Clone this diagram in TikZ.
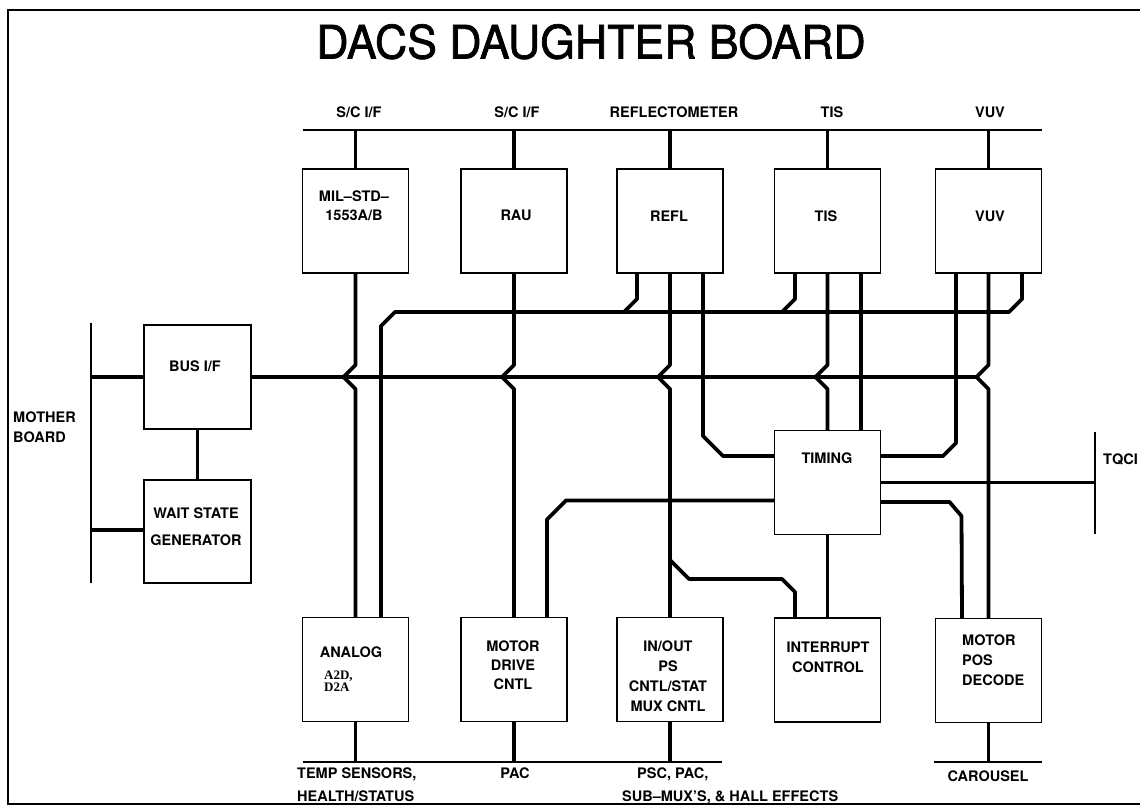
\documentclass[tikz,border=0pt]{standalone}
\usepackage{fontspec}
\setmainfont{TeX Gyre Heros}
\newfontfamily\headfont[FakeBold=1.5]{TeX Gyre Heros}
\newfontfamily\smallserif{Liberation Serif}
\usepackage{graphicx}
\usetikzlibrary{calc}

\tikzset{
  wire/.style={line width=3.8pt, line join=round},
  rail/.style={line width=1.8pt},
  blk/.style={draw, line width=1.8pt, minimum width=106pt, minimum height=104pt,
              inner sep=0pt, outer sep=0pt},
  lbl/.style={inner sep=0pt, font=\fontsize{14.5}{19.5}\selectfont\bfseries},
  sublbl/.style={inner sep=0pt, font=\smallserif\fontsize{13}{10.5}\selectfont\bfseries},
}

\begin{document}
\begin{tikzpicture}[x=1pt,y=-1pt]
\useasboundingbox (0,0) rectangle (1140,807);

% outer frame (open on the right)
\draw[line width=2.6pt] (1140,10) -- (8,10) -- (8,804) -- (1140,804);

% heading
\node[anchor=base, inner sep=0pt, font=\headfont\fontsize{46}{46}\selectfont] (title)
  at (591,58.5) {\scalebox{0.97}[1]{DACS DAUGHTER BOARD}};

% column centres
\def\ca{355.5}\def\cb{514}\def\cc{670}\def\cd{827.5}\def\ce{988.5}

% interface blocks, upper row
\node[blk] (mil)  at (\ca,221) {};
\node[blk] (rau)  at (\cb,221) {};
\node[blk] (refl) at (\cc,221) {};
\node[blk] (tis)  at (\cd,221) {};
\node[blk] (vuv)  at (\ce,221) {};
% lower row
\node[blk] (analog) at (\ca,669.5) {};
\node[blk] (mdrive) at (\cb,669.5) {};
\node[blk] (inout)  at (\cc,669.5) {};
\node[blk] (intr)   at (\cd,670) {};
\node[blk] (mpos)   at (\ce,670.5) {};
% middle and left
\node[blk] (timing) at (\cd,482.5) {};
\node[blk, minimum width=107pt] (busif) at (197.5,377) {};
\node[blk, minimum width=107pt, minimum height=103pt] (wait) at (197.5,531.5) {};

% external rails
\coordinate (tbL) at (303,130);  \coordinate (tbR) at (1042,130);
\coordinate (bbL) at (303,762);  \coordinate (bbR) at (722,762);
\coordinate (cbL) at (934,762);  \coordinate (cbR) at (1042,762);
\coordinate (mbT) at (91,323);   \coordinate (mbB) at (91,583);
\coordinate (tqT) at (1095,432); \coordinate (tqB) at (1095,534);
\draw[rail] (tbL) -- (tbR);
\draw[rail] (bbL) -- (bbR);
\draw[rail] (cbL) -- (cbR);
\draw[rail] (mbT) -- (mbB);
\draw[rail] (tqT) -- (tqB);

% rail stubs
\foreach \b in {mil,rau,refl,tis,vuv} \draw[wire] (\b.north |- tbL) -- (\b.north);
\foreach \b in {analog,mdrive,inout} \draw[wire] (\b.south) -- (\b.south |- bbL);
\draw[wire] (mpos.south) -- (mpos.south |- cbL);

% main data bus
\coordinate (hop) at (0,365);
\coordinate (busEnd) at (976.5,377);
\draw[wire] (busif.east) -- (busEnd);
\foreach \a/\b in {mil/analog, rau/mdrive, refl/inout, tis/timing, vuv/mpos}
  \draw[wire] (\a.south) -- (\a.south |- hop) -- ++(-12,12) -- ++(12,12) -- (\b.north);

% second bus to the analog block
\draw[wire] ([xshift=33.5pt]vuv.south) -- ++(0,26) -- ++(-13,13) -- (395,312)
  -- ++(-14,14) -- ([xshift=25.5pt]analog.north);
\draw[wire] ([xshift=-33pt]refl.south) -- ++(0,26) -- ++(-13,13);
\draw[wire] ([xshift=-32.5pt]tis.south) -- ++(0,26) -- ++(-13,13);

% timing connections
\draw[wire] ([xshift=33pt]refl.south) -- ++(0,163) -- ++(20,20) -- ([yshift=26.5pt]timing.west);
\draw[wire] ([xshift=33.5pt]tis.south) -- ([xshift=33.5pt]timing.north);
\draw[wire] ([xshift=-32.5pt]vuv.south) -- ++(0,170) -- ++(-13,13) -- ([yshift=26.5pt]timing.east);
\draw[wire] (timing.east) -- (timing.east -| tqT);
\draw[wire] ([yshift=-19.5pt]timing.east) -- ++(69,0) -- ++(12,14) -- ([xshift=-26.5pt]mpos.north);
\draw[wire] (timing.south) -- (intr.north);
\draw[wire] ([xshift=33pt]mdrive.north) -- ++(0,-98) -- ++(19,-19) -- ([yshift=-18pt]timing.west);
\coordinate (irq) at (\cc,560);
\draw[wire] (irq) -- ++(19,19) -- ++(93,0) -- ++(13,13) -- ([xshift=-32.5pt]intr.north);

% mother board side
\draw[wire] (busif.west -| mbT) -- (busif.west);
\draw[wire] ([yshift=1.5pt]wait.west -| mbT) -- ([yshift=1.5pt]wait.west);
\draw[wire] (busif.south) -- (wait.north);

% rail labels
\node[lbl, anchor=base] (lsc1) at (359,117) {S/C I/F};
\node[lbl, anchor=base] (lsc2) at (517,117) {S/C I/F};
\node[lbl, anchor=base] (lrefl) at (674,117) {REFLECTOMETER};
\node[lbl, anchor=base] (ltis) at (832,117) {TIS};
\node[lbl, anchor=base] (lvuv) at (990,117) {VUV};
\node[lbl, anchor=north west, align=left] (lmb) at (13,412) {MOTHER\\BOARD};
\node[lbl, anchor=base west] (ltq) at (1103,464) {TQCI};
\node[lbl, anchor=north west, align=left, font=\fontsize{14.5}{23}\selectfont\bfseries]
  (ltemp) at (297,768) {TEMP SENSORS,\\HEALTH/STATUS};
\node[lbl, anchor=base] (lpac) at (515,778) {PAC};
\node[lbl, anchor=base west] (lpsc) at (637,778) {PSC, PAC,};
\node[lbl, anchor=base west] (lsub) at (622,801) {SUB--MUX'S, \& HALL EFFECTS};
\node[lbl, anchor=base] (lcar) at (988,781) {CAROUSEL};

% block labels
\node[lbl, anchor=north, align=center, font=\fontsize{14.5}{19}\selectfont\bfseries]
  (tmil) at (354,191) {MIL--STD--\\1553A/B};
\node[lbl, anchor=base] (trau) at (516,220) {RAU};
\node[lbl, anchor=base] (trefl) at (669,221) {REFL};
\node[lbl, anchor=base] (ttis) at (826,221) {TIS};
\node[lbl, anchor=base] (tvuv) at (990,221) {VUV};
\node[lbl, anchor=base] (tbus) at (195,371) {BUS I/F};
\node[lbl, anchor=north, align=center, font=\fontsize{14.5}{27}\selectfont\bfseries]
  (twait) at (196,508) {WAIT STATE\\GENERATOR};
\node[lbl, anchor=base] (ttim) at (827,463) {TIMING};
\node[lbl, anchor=base] (tana) at (351,657) {ANALOG};
\node[sublbl, anchor=north west, align=left] (tad) at (324,671) {A2D,\\D2A};
\node[lbl, anchor=north, align=center, font=\fontsize{14.5}{19}\selectfont\bfseries]
  (tmd) at (513,641) {MOTOR\\DRIVE\\CNTL};
\node[lbl, anchor=north, align=center, font=\fontsize{14.5}{20}\selectfont\bfseries]
  (tio) at (668,641) {IN/OUT\\PS\\CNTL/STAT\\MUX CNTL};
\node[lbl, anchor=north, align=center, font=\fontsize{14.5}{20}\selectfont\bfseries]
  (tint) at (828,642) {INTERRUPT\\CONTROL};
\node[lbl, anchor=north west, align=left, font=\fontsize{14.5}{20}\selectfont\bfseries]
  (tmp) at (962,635) {MOTOR\\POS\\DECODE};
\end{tikzpicture}
\end{document}
